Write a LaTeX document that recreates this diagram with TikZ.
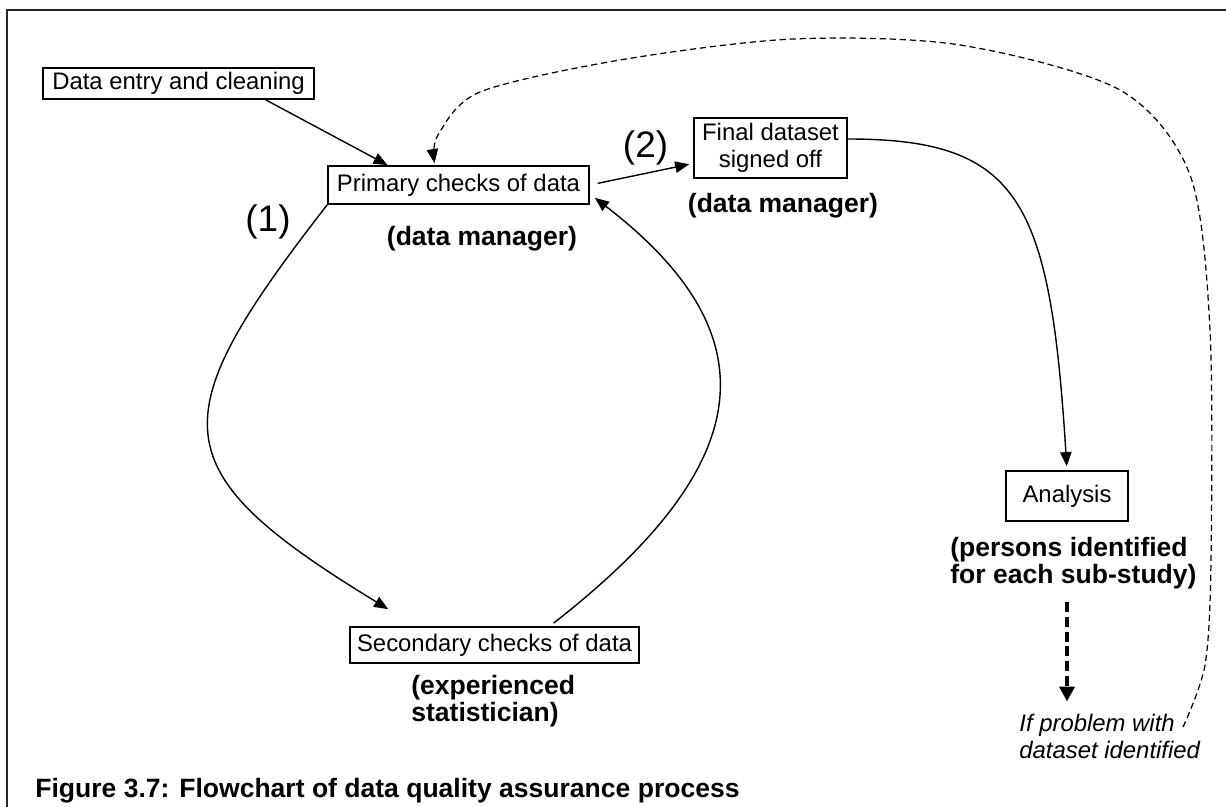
\documentclass[tikz,border=0pt]{standalone}
\usepackage{fontspec}
\setmainfont{Liberation Sans}
\usetikzlibrary{arrows.meta,calc}

\newcommand{\boxfont}{\fontsize{13.6pt}{15.3pt}\selectfont}
\newcommand{\rolefont}{\fontsize{15.1pt}{15.5pt}\selectfont\bfseries}
\newcommand{\stepfont}{\fontsize{21pt}{24pt}\selectfont}

\begin{document}
\begin{tikzpicture}[x=0.02cm, y=-0.02cm,
        stage/.style={draw, line width=1pt, inner sep=0pt, font=\boxfont, align=center},
        role/.style={inner sep=0pt, font=\rolefont},
        flow/.style={line width=0.8pt, -{Triangle[length=8pt,width=6.5pt]}},
        back/.style={line width=0.7pt, dash pattern=on 3.5pt off 2.2pt, -{Triangle[length=8pt,width=6.5pt]}},
        bigdash/.style={line width=2.2pt, dash pattern=on 5.7pt off 2.8pt, -{Triangle[length=8.5pt,width=8.5pt]}}]
    \useasboundingbox (0,0) rectangle (1226,807);
    \draw[line width=1pt, black!85] (7,807) -- (7,10) -- (1226,10);

    \node[stage, minimum width=5.42cm, minimum height=0.62cm] (entry) at (178.5,83.5) {Data entry and cleaning};
    \node[stage, minimum width=5.22cm, minimum height=0.76cm] (primary) at (458.5,185) {Primary checks of data};
    \node[stage, minimum width=3.06cm, minimum height=1.2cm] (final) at (770.5,148) {Final dataset\\signed off};
    \node[stage, minimum width=2.44cm, minimum height=1.0cm] (analysis) at (1067,496) {Analysis};
    \node[stage, minimum width=5.78cm, minimum height=0.72cm] (secondary) at (494.5,645) {Secondary checks of data};

    \node[role] (primrole) at (482,239) {(data manager)};
    \node[role] (finalrole) at (783,206) {(data manager)};
    \node[role, align=left, anchor=north west] (anrole) at (950,537) {(persons identified\\for each sub-study)};
    \node[role, align=left, anchor=north west] (secrole) at (411,675) {(experienced\\statistician)};
    \node[inner sep=0pt, font=\stepfont] (one) at (268,222) {(1)};
    \node[inner sep=0pt, font=\stepfont] (two) at (645.5,148) {(2)};
    \node[inner sep=0pt, font=\boxfont\itshape, align=left, anchor=north west] (problem) at (1019,714) {If problem with\\dataset identified};
    \node[inner sep=0pt, font=\rolefont, anchor=base west] (caption) at (35,797) {Figure 3.7: Flowchart of data quality assurance process};

    \coordinate (loopstart) at (1183,727);
    \coordinate (loopend) at ($(primary.north)+(-24,-2)$);

    \draw[flow] ($(entry.south west)!0.82!(entry.south east)$) -- ($(primary.north west)!0.23!(primary.north east)$);
    \draw[flow, shorten <=0.16cm, shorten >=0.08cm] (primary.east) -- ($(final.south west)!0.25!(final.north west)$);
    \draw[flow, shorten >=0.08cm] ($(final.east)+(0,-9)$) .. controls (1020,139) and (1050,200) .. (analysis.north);
    \draw[flow] (primary.south west) .. controls (160,420) and (160,470) .. ($(secondary.north west)+(39,-17)$);
    \draw[flow, shorten <=0.1cm] ($(secondary.north west)!0.69!(secondary.north east)$) .. controls (750,470) and (780,340) .. ($(primary.south east)+(5,-7)$);
    \draw[bigdash, shorten <=0.24cm, shorten >=0.25cm] (anrole.south -| analysis.center) -- (problem.north -| analysis.center);
    \draw[back] plot[smooth] coordinates {(loopstart) (1205,665) (1211,560) (1210,330) (1190,175) (1120,90) (960,45) (793,39) (620,60) (480,92) (438,135) (loopend)};
\end{tikzpicture}
\end{document}
